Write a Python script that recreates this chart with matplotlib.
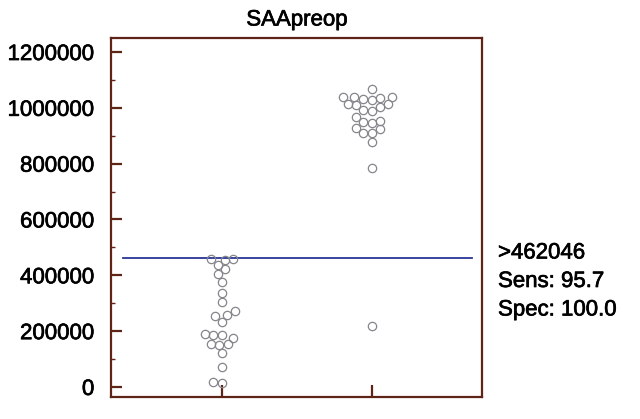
import numpy as np
import matplotlib
matplotlib.use("Agg")
import matplotlib.pyplot as plt
from matplotlib.ticker import MultipleLocator
import matplotlib.patheffects as pe

plt.rcParams['font.family'] = ['Liberation Sans', 'DejaVu Sans']

title = "SAApreop"
group_pos = [1, 2]
group1 = [460000, 458000, 455000, 437000, 421000, 404000, 377000, 338000, 305000,
          273000, 258000, 254000, 234000, 189000, 186000, 186000, 177000, 153000,
          153000, 150000, 121000, 73000, 19000, 15000]
group2 = [1066000, 1040000, 1040000, 1040000, 1034000, 1031000, 1028000, 1014000,
          1014000, 1010000, 1002000, 992000, 990000, 966000, 954000, 950000, 947000,
          927000, 923000, 911000, 911000, 879000, 783000, 218000]
cutoff = 462046
annot = [">462046", "Sens: 95.7", "Spec: 100.0"]
yticks = [0, 200000, 400000, 600000, 800000, 1000000, 1200000]

edge = '#5e2418'
thick = [pe.withStroke(linewidth=0.5, foreground='black')]

fig = plt.figure(figsize=(6.4, 4.19), dpi=100)
ax = fig.add_axes([0.1734, 0.0525, 0.753 - 0.1734, 0.9105 - 0.0525])
ax.set_xlim(0.26, 2.733)
ax.set_ylim(-36000, 1252000)


def swarm(values, xc, d=8.6):
    pts = ax.transData.transform([(xc, v) for v in values])
    cx = pts[0, 0]
    order = np.argsort(pts[:, 1])
    placed = []
    xs = np.zeros(len(values))
    for i in order:
        py = pts[i, 1]
        cands = [cx]
        for (qx, qy) in placed:
            dy = abs(qy - py)
            if dy < d:
                dx = np.sqrt(d * d - dy * dy)
                cands += [qx - dx, qx + dx]
        cands = sorted(cands, key=lambda c: abs(c - cx))
        for c in cands:
            ok = all((c - qx) ** 2 + (py - qy) ** 2 >= d * d - 1e-6 for qx, qy in placed)
            if ok:
                break
        placed.append((c, py))
        xs[i] = c
    inv = ax.transData.inverted()
    return inv.transform(np.column_stack([xs, pts[:, 1]]))[:, 0]


for pos, vals in zip(group_pos, [group1, group2]):
    xs = swarm(vals, pos)
    ax.plot(xs, vals, linestyle='none', marker='o', markersize=6.0,
            markerfacecolor='none', markeredgecolor='#85858c', markeredgewidth=0.9,
            zorder=3)

ax.plot([0.34, 2.667], [cutoff, cutoff], color='#2b3596', linewidth=1.3, zorder=2)

ax.set_yticks(yticks)
ax.set_yticklabels([str(t) for t in yticks], fontsize=16)
for lab in ax.get_yticklabels():
    lab.set_path_effects(thick)
ax.yaxis.set_minor_locator(MultipleLocator(100000))
ax.set_xticks(group_pos)
ax.set_xticklabels(['', ''])
ax.tick_params(axis='y', which='major', direction='in', length=8, width=1.6,
               color=edge, pad=12)
ax.tick_params(axis='y', which='minor', direction='in', length=3, width=1.0, color=edge)
ax.tick_params(axis='x', which='major', direction='in', length=9, width=1.6, color=edge)
for s in ax.spines.values():
    s.set_color(edge)
    s.set_linewidth(1.6)

fig.text(297 / 640, 1 - 20 / 419, title, fontsize=16, ha='center', va='center',
         path_effects=thick)
for i, t in enumerate(annot):
    fig.text(498 / 640, 1 - (253 + 28.5 * i) / 419, t, fontsize=16, ha='left',
             va='center', path_effects=thick)

fig.savefig('out.png', dpi=100)
